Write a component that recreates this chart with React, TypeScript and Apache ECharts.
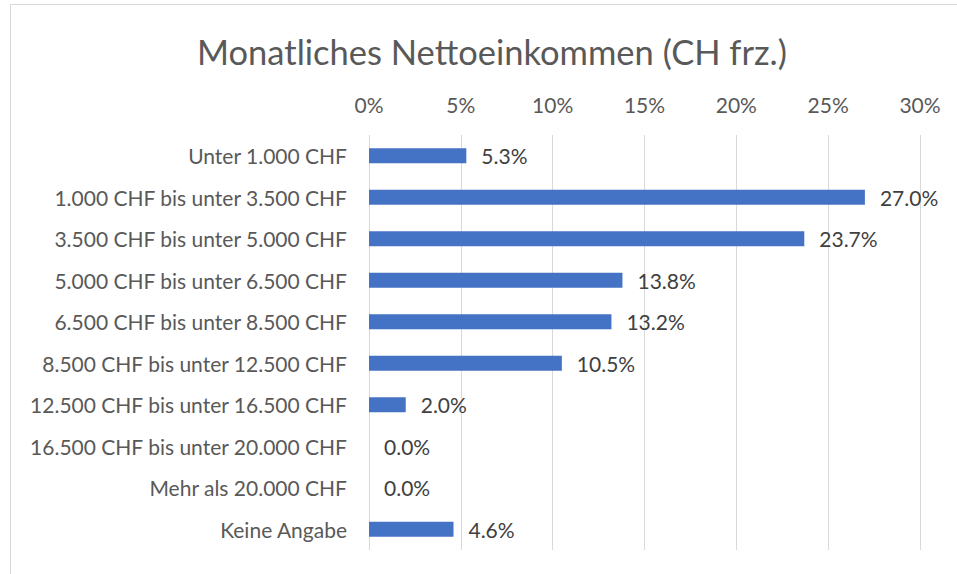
import React, { useEffect, useRef } from "react";
import * as echarts from "echarts";

const titleText = "Monatliches Nettoeinkommen (CH frz.)";
const categories = [
  "Unter 1.000 CHF",
  "1.000 CHF bis unter 3.500 CHF",
  "3.500 CHF bis unter 5.000 CHF",
  "5.000 CHF bis unter 6.500 CHF",
  "6.500 CHF bis unter 8.500 CHF",
  "8.500 CHF bis unter 12.500 CHF",
  "12.500 CHF bis unter 16.500 CHF",
  "16.500 CHF bis unter 20.000 CHF",
  "Mehr als 20.000 CHF",
  "Keine Angabe",
];
const values = [5.3, 27.0, 23.7, 13.8, 13.2, 10.5, 2.0, 0.0, 0.0, 4.6];
const axisMin = 0;
const axisMax = 30;
const axisStep = 5;

const FONT = "Lato, 'Noto Sans', sans-serif";

export default function App() {
  const ref = useRef<HTMLDivElement>(null);
  useEffect(() => {
    if (!ref.current) return;
    const chart = echarts.init(ref.current, undefined, { renderer: "svg" });
    chart.setOption({
      animation: false,
      backgroundColor: "#ffffff",
      title: {
        text: titleText,
        left: 487,
        top: 29,
        textAlign: "center",
        textStyle: {
          fontFamily: FONT,
          fontSize: 34.5,
          fontWeight: "normal",
          color: "#595959",
        },
      },
      graphic: [
        {
          type: "rect",
          shape: { x: 10.5, y: 4.5, width: 1000, height: 1000 },
          style: { fill: "none", stroke: "#d9d9d9", lineWidth: 1 },
          silent: true,
        },
      ],
      grid: { left: 369, right: 37, top: 135, bottom: 24, containLabel: false },
      xAxis: {
        type: "value",
        position: "top",
        min: axisMin,
        max: axisMax,
        interval: axisStep,
        axisLine: { show: false },
        axisTick: { show: false },
        splitLine: { show: true, lineStyle: { color: "#d9d9d9", width: 1 } },
        axisLabel: {
          formatter: "{value}%",
          fontFamily: FONT,
          fontSize: 21,
          color: "#595959",
          margin: 20,
        },
      },
      yAxis: {
        type: "category",
        data: categories,
        inverse: true,
        axisLine: { show: false },
        axisTick: { show: false },
        axisLabel: {
          fontFamily: FONT,
          fontSize: 21,
          color: "#595959",
          margin: 22,
        },
      },
      series: [
        {
          type: "bar",
          data: values,
          barWidth: 15,
          itemStyle: { color: "#4472c4" },
          label: {
            show: true,
            position: "right",
            distance: 15,
            formatter: (p: any) => `${Number(p.value).toFixed(1)}%`,
            fontFamily: FONT,
            fontSize: 21,
            color: "#404040",
          },
        },
      ],
    });
    return () => chart.dispose();
  }, []);
  return (
    <div
      ref={ref}
      style={{ position: "absolute", left: 0, top: 0, width: 957, height: 574 }}
    />
  );
}
